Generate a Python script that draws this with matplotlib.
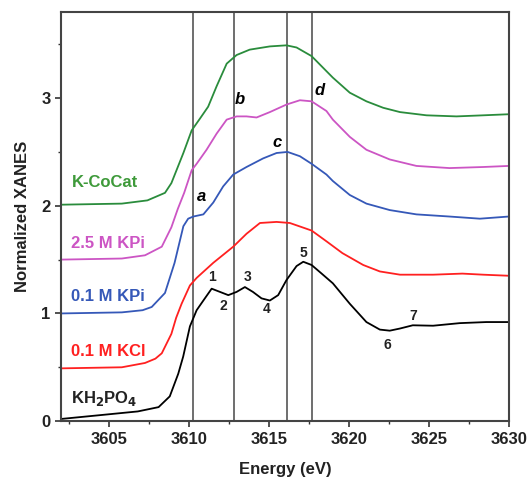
import numpy as np
import matplotlib
matplotlib.use('Agg')
import matplotlib.pyplot as plt
from matplotlib.ticker import MultipleLocator

plt.rcParams['font.family'] = ['Liberation Sans', 'DejaVu Sans']

# KH2PO4 (black)
e_kh = [3602.0, 3604.75, 3606.8, 3608.1, 3608.8, 3609.33, 3609.64, 3610.06, 3610.48, 3610.9,
        3611.42, 3611.94, 3612.46, 3612.98, 3613.5, 3614.0, 3614.54, 3615.06, 3615.58, 3616.1,
        3616.73, 3617.15, 3617.67, 3618.3, 3619.0, 3620.06, 3621.1, 3621.94, 3622.56, 3623.2,
        3624.0, 3625.27, 3626.94, 3628.6, 3630.0]
y_kh = [0.02, 0.06, 0.09, 0.13, 0.23, 0.44, 0.60, 0.88, 1.03, 1.12,
        1.23, 1.20, 1.17, 1.20, 1.245, 1.20, 1.14, 1.12, 1.17, 1.31,
        1.44, 1.48, 1.45, 1.37, 1.28, 1.09, 0.92, 0.85, 0.84, 0.86,
        0.89, 0.886, 0.91, 0.92, 0.92]

# 0.1 M KCl (red)
e_kcl = [3602.0, 3605.8, 3607.25, 3607.9, 3608.3, 3608.9, 3609.2, 3609.54, 3610.06, 3610.48,
         3611.52, 3612.77, 3613.6, 3614.44, 3615.48, 3616.31, 3617.67, 3618.6, 3619.6, 3620.9,
         3621.94, 3623.2, 3625.27, 3627.1, 3628.4, 3630.0]
y_kcl = [0.49, 0.50, 0.54, 0.58, 0.63, 0.81, 0.96, 1.09, 1.26, 1.33,
         1.47, 1.62, 1.74, 1.84, 1.85, 1.84, 1.77, 1.67, 1.56, 1.45,
         1.39, 1.36, 1.36, 1.37, 1.36, 1.35]

# 0.1 M KPi (blue)
e_kpi1 = [3602.0, 3605.8, 3607.1, 3607.67, 3608.5, 3609.1, 3609.65, 3609.95, 3610.27, 3610.9,
          3611.52, 3612.14, 3612.77, 3613.6, 3614.64, 3615.48, 3616.17, 3616.94, 3617.67, 3618.6,
          3619.0, 3620.06, 3621.1, 3622.56, 3624.23, 3626.3, 3628.2, 3630.0]
y_kpi1 = [1.0, 1.01, 1.03, 1.06, 1.19, 1.47, 1.81, 1.88, 1.90, 1.92,
          2.03, 2.18, 2.29, 2.36, 2.44, 2.49, 2.50, 2.46, 2.39, 2.29,
          2.23, 2.10, 2.02, 1.96, 1.92, 1.90, 1.88, 1.90]

# 2.5 M KPi (magenta)
e_kpi25 = [3602.0, 3605.8, 3607.25, 3608.3, 3608.9, 3609.3, 3609.7, 3610.17, 3610.48, 3611.1,
           3611.73, 3612.36, 3612.98, 3613.6, 3614.23, 3615.06, 3616.1, 3616.94, 3617.67, 3618.6,
           3619.0, 3620.06, 3621.1, 3622.56, 3624.23, 3626.3, 3628.4, 3630.0]
y_kpi25 = [1.50, 1.51, 1.54, 1.62, 1.80, 1.97, 2.12, 2.33, 2.39, 2.52,
           2.67, 2.80, 2.83, 2.83, 2.82, 2.87, 2.94, 2.98, 2.97, 2.88,
           2.80, 2.64, 2.52, 2.43, 2.37, 2.35, 2.36, 2.37]

# K-CoCat (green)
e_cocat = [3602.0, 3605.8, 3607.4, 3608.5, 3608.9, 3609.65, 3610.17, 3610.69, 3611.2, 3611.73,
           3612.36, 3612.98, 3613.8, 3615.06, 3616.1, 3616.73, 3617.67, 3618.6, 3619.0, 3620.06,
           3621.1, 3622.15, 3623.2, 3624.86, 3626.73, 3628.4, 3630.0]
y_cocat = [2.01, 2.02, 2.05, 2.12, 2.21, 2.49, 2.70, 2.81, 2.92, 3.11,
           3.32, 3.40, 3.45, 3.48, 3.49, 3.47, 3.39, 3.25, 3.19, 3.05,
           2.97, 2.91, 2.87, 2.84, 2.83, 2.84, 2.85]

vlines = [3610.25, 3612.8, 3616.15, 3617.7]

names = ['KH$_\\mathbf{2}$PO$_\\mathbf{4}$', '0.1 M KCl', '0.1 M KPi', '2.5 M KPi', 'K-CoCat']
name_y = [0.21, 0.644, 1.155, 1.65, 2.22]
colors = ['black', '#ff2020', '#3558b8', '#cc55c4', '#2a8c3c']
text_colors = ['#222222', '#ff2020', '#3558b8', '#cc55c4', '#3e9a3a']

letters = ['a', 'b', 'c', 'd']
letter_x = [3610.8, 3613.2, 3615.5, 3618.2]
letter_y = [2.09, 2.99, 2.59, 3.07]

nums = ['1', '2', '3', '4', '5', '6', '7']
num_x = [3611.42, 3612.16, 3613.64, 3614.87, 3617.13, 3622.38, 3624.0]
num_y = [1.34, 1.07, 1.34, 1.04, 1.56, 0.71, 0.98]

fig = plt.figure(figsize=(5.31, 4.78), dpi=100)
ax = fig.add_axes([0.115, 0.119, 0.843, 0.856])

for v in vlines:
    ax.axvline(v, color='#555555', lw=1.2, zorder=1)

series = [(e_kh, y_kh), (e_kcl, y_kcl), (e_kpi1, y_kpi1), (e_kpi25, y_kpi25), (e_cocat, y_cocat)]
for (e, y), c in zip(series, colors):
    ax.plot(e, y, color=c, lw=1.3, zorder=2, solid_joinstyle='round')

for n, yy, c in zip(names, name_y, text_colors):
    ax.text(3602.65, yy, n, color=c, fontsize=12, fontweight='bold', va='center', ha='left')

for l, x, y in zip(letters, letter_x, letter_y):
    ax.text(x, y, l, fontsize=12, fontweight='bold', style='italic', ha='center', va='center')

for n, x, y in zip(nums, num_x, num_y):
    ax.text(x, y, n, fontsize=10, fontweight='bold', ha='center', va='center', color='#222222')

ax.set_xlim(3602, 3630)
ax.set_ylim(0, 3.8)
ax.set_xticks([3605, 3610, 3615, 3620, 3625, 3630])
ax.set_yticks([0, 1, 2, 3])
ax.xaxis.set_minor_locator(MultipleLocator(2.5))
ax.yaxis.set_minor_locator(MultipleLocator(0.5))
ax.tick_params(which='major', direction='out', length=4, width=1.2, labelsize=12, colors='#333333')
ax.tick_params(which='minor', direction='out', length=2.5, width=1.0, colors='#333333')
for lab in ax.get_xticklabels() + ax.get_yticklabels():
    lab.set_fontweight('bold')
    lab.set_color('#222222')
for sp in ax.spines.values():
    sp.set_linewidth(1.5)
    sp.set_color('#444444')

ax.set_xlabel('Energy (eV)', fontsize=12, fontweight='bold', color='#222222', labelpad=11)
ax.set_ylabel('Normalized XANES', fontsize=12, fontweight='bold', color='#222222', labelpad=8)

fig.savefig('out.png', dpi=100)
